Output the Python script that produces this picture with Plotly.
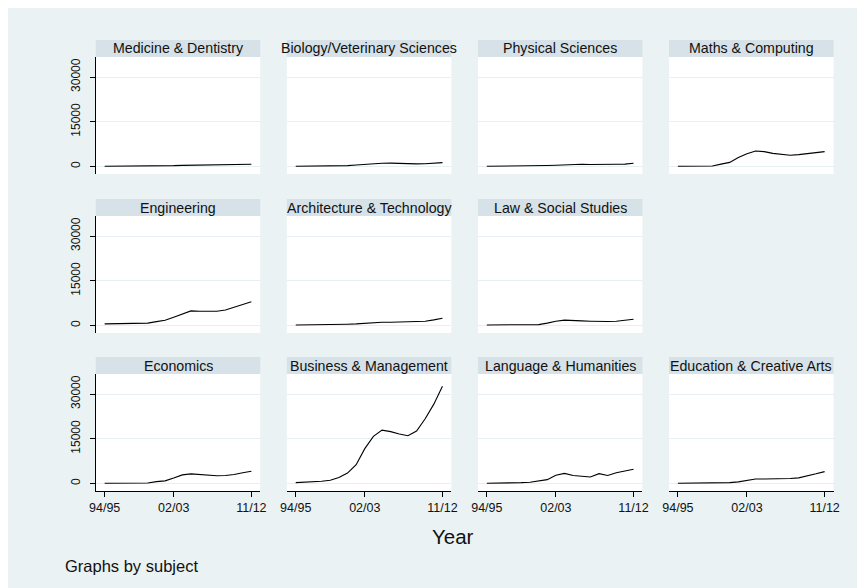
import plotly.graph_objects as go

years = ["94/95", "95/96", "96/97", "97/98", "98/99", "99/00", "00/01", "01/02", "02/03",
         "03/04", "04/05", "05/06", "06/07", "07/08", "08/09", "09/10", "10/11", "11/12"]
tick_years = ["94/95", "02/03", "11/12"]
y_ticks = [0, 15000, 30000]

subjects = ["Medicine & Dentistry", "Biology/Veterinary Sciences", "Physical Sciences",
            "Maths & Computing", "Engineering", "Architecture & Technology",
            "Law & Social Studies", None, "Economics", "Business & Management",
            "Language & Humanities", "Education & Creative Arts"]

medicine = [100, 100, 100, 100, 100, 150, 200, 250, 300, 400, 450, 450, 450, 500, 500, 550, 650, 750]
biology = [100, 100, 100, 100, 150, 200, 300, 500, 750, 950, 1100, 1150, 1000, 900, 900, 950, 1050, 1300]
physical = [100, 100, 100, 100, 100, 150, 250, 350, 450, 600, 700, 750, 700, 650, 700, 750, 800, 1100]
maths = [100, 100, 120, 150, 200, 800, 1400, 3000, 4300, 5200, 5000, 4400, 4000, 3800, 4000, 4300, 4700, 5000]
engineering = [550, 550, 550, 550, 600, 800, 1300, 1800, 2800, 3900, 4900, 4800, 4700, 4800, 5200, 6100, 7100, 8000]
architecture = [200, 200, 200, 200, 250, 300, 450, 550, 800, 1000, 1100, 1100, 1150, 1200, 1250, 1450, 1900, 2450]
law = [200, 200, 200, 200, 200, 200, 300, 800, 1450, 1800, 1800, 1550, 1450, 1350, 1350, 1450, 1800, 2100]
economics = [100, 100, 100, 100, 100, 200, 650, 900, 1850, 2900, 3250, 3000, 2700, 2600, 2700, 3000, 3600, 4100]
business = [300, 400, 500, 750, 1100, 2000, 3500, 6300, 11700, 15800, 17900, 17400, 16600, 16000, 17600, 21700, 26600, 32600]
language = [100, 100, 150, 200, 300, 450, 750, 1300, 2800, 3400, 2700, 2500, 2200, 3300, 2700, 3600, 4300, 4800]
education = [100, 100, 100, 100, 100, 100, 300, 550, 900, 1500, 1500, 1500, 1600, 1700, 1900, 2500, 3250, 4000]

series = [medicine, biology, physical, maths, engineering, architecture, law, None,
          economics, business, language, education]

W, H = 865, 588
OFF = 8  # page offset of the figure inside the window
BG = "#EAF2F3"
STRIP = "#D6E2E8"
GRID = "#E6EFF1"
FONT = "Liberation Sans, Arial, sans-serif"

col_left = [90 - OFF, 284 - OFF, 478 - OFF, 672 - OFF]
pw = 167
row_top = [57 - OFF, 216 - OFF, 374 - OFF]
ph = 117
sh = 17

fig = go.Figure()
shapes = []
annotations = []

n = 0
for k, (name, vals) in enumerate(zip(subjects, series)):
    if name is None:
        continue
    n += 1
    r, c = divmod(k, 4)
    x0 = col_left[c]
    y0 = row_top[r]
    ax = "" if n == 1 else str(n)
    bottom = r == 2
    first = c == 0
    fig.add_trace(go.Scatter(x=years, y=vals, mode="lines",
                             line=dict(color="black", width=1.1),
                             xaxis="x" + ax, yaxis="y" + ax, showlegend=False,
                             hoverinfo="skip"))
    fig.layout["xaxis" + ax] = dict(
        domain=[x0 / W, (x0 + pw) / W], anchor="y" + ax, type="category",
        categoryorder="array", categoryarray=years,
        range=[-1.03, 18.03], tickmode="array", tickvals=tick_years, ticktext=tick_years,
        showticklabels=bottom, showline=bottom, linecolor="black", linewidth=1,
        ticks="outside" if bottom else "", ticklen=5, tickcolor="black",
        showgrid=False, zeroline=False, fixedrange=True,
        tickfont=dict(family=FONT, size=12.5, color="#111"))
    fig.layout["yaxis" + ax] = dict(
        domain=[1 - (y0 + ph) / H, 1 - y0 / H], anchor="x" + ax,
        range=[-2500, 36700], tickmode="array", tickvals=y_ticks,
        ticktext=[str(v) for v in y_ticks],
        showticklabels=first, showline=first, linecolor="black", linewidth=1,
        ticks="outside" if first else "", ticklen=5, tickcolor="black",
        ticklabelstandoff=5,
        tickangle=-90, showgrid=True, gridcolor=GRID, gridwidth=1, zeroline=False,
        fixedrange=True, tickfont=dict(family=FONT, size=12, color="#111"))
    shapes.append(dict(type="rect", xref="paper", yref="paper",
                       x0=x0 / W, x1=(x0 + pw) / W,
                       y0=1 - y0 / H, y1=1 - (y0 - sh) / H,
                       fillcolor=STRIP, line=dict(width=0)))
    annotations.append(dict(text=name, xref="paper", yref="paper",
                            x=(x0 + pw / 2) / W, y=1 - (y0 - sh / 2) / H,
                            xanchor="center", yanchor="middle", showarrow=False,
                            font=dict(family=FONT, size=14.2, color="#111")))

annotations.append(dict(text="Year", xref="paper", yref="paper", x=(453 - OFF) / W,
                        y=1 - (536 - OFF) / H,
                        xanchor="center", yanchor="middle", showarrow=False,
                        font=dict(family=FONT, size=20.5, color="#111")))
annotations.append(dict(text="Graphs by subject", xref="paper", yref="paper",
                        x=(57 - OFF) / W, y=1 - (566 - OFF) / H,
                        xanchor="left", yanchor="middle", showarrow=False,
                        font=dict(family=FONT, size=16.5, color="#111")))

fig.update_layout(width=W, height=H, margin=dict(l=0, r=0, t=0, b=0),
                  paper_bgcolor=BG, plot_bgcolor="white",
                  shapes=shapes, annotations=annotations, showlegend=False)

fig.write_html("out.html")
